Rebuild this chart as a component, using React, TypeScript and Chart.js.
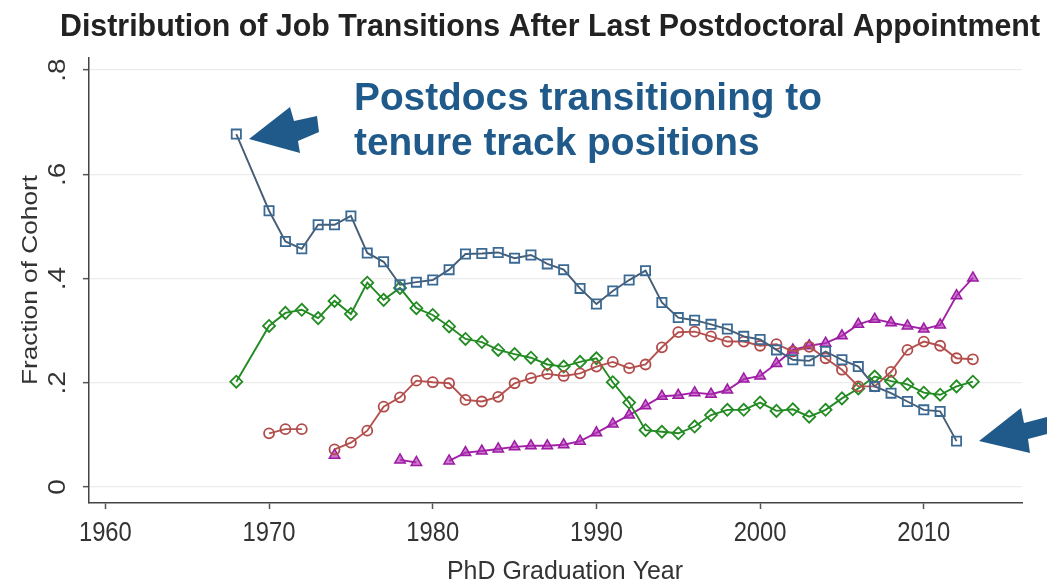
import React, { useEffect, useRef } from 'react';
import { Chart, registerables } from 'chart.js';

Chart.register(...registerables);

// ---- Data ----
const TITLE = 'Distribution of Job Transitions After Last Postdoctoral Appointment';
const ANNOT_LINE1 = 'Postdocs transitioning to';
const ANNOT_LINE2 = 'tenure track positions';
const X_TITLE = 'PhD Graduation Year';
const Y_TITLE = 'Fraction of Cohort';

const xTicks = [1960, 1970, 1980, 1990, 2000, 2010];
const xTickLabels = ['1960', '1970', '1980', '1990', '2000', '2010'];
const yTicks = [0, 0.2, 0.4, 0.6, 0.8];
const yTickLabels = ['0', '.2', '.4', '.6', '.8'];

// Tenure track (blue squares)
const tenureYears = [1968, 1970, 1971, 1972, 1973, 1974, 1975, 1976, 1977, 1978, 1979, 1980, 1981, 1982, 1983, 1984, 1985, 1986, 1987, 1988, 1989, 1990, 1991, 1992, 1993, 1994, 1995, 1996, 1997, 1998, 1999, 2000, 2001, 2002, 2003, 2004, 2005, 2006, 2007, 2008, 2009, 2010, 2011, 2012];
const tenureValues = [0.677, 0.530, 0.471, 0.457, 0.503, 0.503, 0.520, 0.449, 0.432, 0.388, 0.393, 0.397, 0.417, 0.447, 0.448, 0.450, 0.439, 0.445, 0.428, 0.417, 0.381, 0.351, 0.376, 0.397, 0.415, 0.354, 0.325, 0.320, 0.312, 0.303, 0.289, 0.283, 0.263, 0.244, 0.242, 0.260, 0.244, 0.231, 0.193, 0.180, 0.164, 0.148, 0.145, 0.088];

// Red circles
const redYears = [1970, 1971, 1972, 1973, 1974, 1975, 1976, 1977, 1978, 1979, 1980, 1981, 1982, 1983, 1984, 1985, 1986, 1987, 1988, 1989, 1990, 1991, 1992, 1993, 1994, 1995, 1996, 1997, 1998, 1999, 2000, 2001, 2002, 2003, 2004, 2005, 2006, 2007, 2008, 2009, 2010, 2011, 2012, 2013];
const redValues = [0.103, 0.111, 0.111, null, 0.072, 0.085, 0.108, 0.154, 0.172, 0.204, 0.201, 0.199, 0.167, 0.164, 0.173, 0.199, 0.209, 0.217, 0.213, 0.218, 0.231, 0.240, 0.228, 0.235, 0.268, 0.297, 0.298, 0.289, 0.279, 0.279, 0.271, 0.274, 0.260, 0.269, 0.247, 0.225, 0.193, 0.193, 0.221, 0.263, 0.279, 0.271, 0.247, 0.245];

// Green diamonds
const greenYears = [1968, 1970, 1971, 1972, 1973, 1974, 1975, 1976, 1977, 1978, 1979, 1980, 1981, 1982, 1983, 1984, 1985, 1986, 1987, 1988, 1989, 1990, 1991, 1992, 1993, 1994, 1995, 1996, 1997, 1998, 1999, 2000, 2001, 2002, 2003, 2004, 2005, 2006, 2007, 2008, 2009, 2010, 2011, 2012, 2013];
const greenValues = [0.202, 0.309, 0.334, 0.340, 0.324, 0.357, 0.332, 0.392, 0.359, 0.382, 0.343, 0.330, 0.308, 0.284, 0.278, 0.263, 0.255, 0.248, 0.235, 0.231, 0.240, 0.247, 0.201, 0.162, 0.109, 0.106, 0.103, 0.116, 0.138, 0.148, 0.148, 0.162, 0.146, 0.149, 0.135, 0.148, 0.170, 0.189, 0.212, 0.203, 0.197, 0.181, 0.177, 0.193, 0.202];

// Purple triangles
const purpleYears = [1974, 1975, 1976, 1977, 1978, 1979, 1980, 1981, 1982, 1983, 1984, 1985, 1986, 1987, 1988, 1989, 1990, 1991, 1992, 1993, 1994, 1995, 1996, 1997, 1998, 1999, 2000, 2001, 2002, 2003, 2004, 2005, 2006, 2007, 2008, 2009, 2010, 2011, 2012, 2013];
const purpleValues = [0.061, null, null, null, 0.052, 0.047, null, 0.050, 0.066, 0.069, 0.073, 0.077, 0.079, 0.079, 0.081, 0.088, 0.104, 0.121, 0.138, 0.156, 0.174, 0.176, 0.181, 0.178, 0.186, 0.207, 0.213, 0.237, 0.263, 0.271, 0.276, 0.290, 0.312, 0.322, 0.315, 0.309, 0.303, 0.311, 0.367, 0.401];

const FONT = '"Liberation Sans", Arial, Helvetica, sans-serif';
const ANNOT_COLOR = '#1f5a8a';
const TEXT_COLOR = '#333333';
const SQUISH = 0.85;

function pts(xs: number[], ys: (number | null)[]) {
  return xs.map((x, i) => ({ x, y: ys[i] }));
}

function drawText(
  ctx: CanvasRenderingContext2D,
  text: string,
  x: number,
  y: number,
  font: string,
  color: string,
  align: CanvasTextAlign,
  sx: number,
  rotate = false,
  lenScale = 1
) {
  ctx.save();
  ctx.font = font;
  ctx.fillStyle = color;
  ctx.textAlign = align;
  ctx.textBaseline = 'alphabetic';
  ctx.translate(x, y);
  ctx.scale(sx, 1);
  if (rotate) ctx.rotate(-Math.PI / 2);
  ctx.scale(lenScale, 1);
  ctx.fillText(text, 0, 0);
  ctx.restore();
}

function measure(ctx: CanvasRenderingContext2D, text: string, font: string) {
  ctx.save();
  ctx.font = font;
  const w = ctx.measureText(text).width;
  ctx.restore();
  return w;
}

function poly(ctx: CanvasRenderingContext2D, p: number[][], color: string) {
  ctx.save();
  ctx.beginPath();
  ctx.moveTo(p[0][0], p[0][1]);
  for (let i = 1; i < p.length; i++) ctx.lineTo(p[i][0], p[i][1]);
  ctx.closePath();
  ctx.fillStyle = color;
  ctx.fill();
  ctx.restore();
}

const overlayPlugin = {
  id: 'overlay',
  afterDraw(chart: any) {
    const ctx: CanvasRenderingContext2D = chart.ctx;
    const xs = chart.scales.x;
    const ys = chart.scales.y;

    // Title
    const tFont = `bold 31px ${FONT}`;
    const tw = measure(ctx, TITLE, tFont);
    drawText(ctx, TITLE, 550, 36, tFont, '#222222', 'center', 980 / tw);

    // Annotation
    const aFont = `bold 38px ${FONT}`;
    const aw = measure(ctx, ANNOT_LINE1, aFont);
    const as = 468 / aw;
    drawText(ctx, ANNOT_LINE1, 354, 110, aFont, ANNOT_COLOR, 'left', as);
    drawText(ctx, ANNOT_LINE2, 354, 155, aFont, ANNOT_COLOR, 'left', as);

    // Arrows
    poly(ctx, [[249, 139], [290, 107], [294, 121], [317, 116], [319, 132], [298, 141], [300, 153]], ANNOT_COLOR);
    poly(ctx, [[979, 441], [1021, 408], [1024, 423], [1047, 417], [1047, 434], [1028, 439], [1030, 453]], ANNOT_COLOR);

    // X tick labels
    const tickFont = `28px ${FONT}`;
    xs.ticks.forEach((t: any) => {
      const px = xs.getPixelForValue(t.value);
      const idx = xTicks.indexOf(t.value);
      drawText(ctx, idx >= 0 ? xTickLabels[idx] : String(t.value), px, 541, tickFont, TEXT_COLOR, 'center', SQUISH);
    });

    // Y tick labels (rotated)
    ys.ticks.forEach((t: any) => {
      const py = ys.getPixelForValue(t.value);
      const idx = yTicks.indexOf(t.value);
      drawText(ctx, idx >= 0 ? yTickLabels[idx] : String(t.value), 65, py, tickFont, TEXT_COLOR, 'center', SQUISH, true);
    });

    // Axis titles
    const axFont = `25px ${FONT}`;
    const xw = measure(ctx, X_TITLE, axFont);
    drawText(ctx, X_TITLE, 565, 579, axFont, TEXT_COLOR, 'center', 236 / xw);
    const yw = measure(ctx, Y_TITLE, axFont);
    drawText(ctx, Y_TITLE, 37, 280, axFont, TEXT_COLOR, 'center', SQUISH, true, 210 / yw);
  },
};

export default function App() {
  const ref = useRef<HTMLCanvasElement | null>(null);

  useEffect(() => {
    document.body.style.margin = '0';
    const canvas = ref.current;
    if (!canvas) return;
    const chart = new Chart(canvas, {
      type: 'line',
      data: {
        datasets: [
          {
            label: 'Tenure track',
            data: pts(tenureYears, tenureValues),
            borderColor: '#465d76',
            borderWidth: 1.9,
            pointStyle: 'rect',
            pointRadius: 6.5,
            pointBorderColor: '#3a6a94',
            pointBackgroundColor: 'rgba(255,255,255,0)',
            pointBorderWidth: 1.8,
          },
          {
            label: 'Red',
            data: pts(redYears, redValues),
            borderColor: '#b5524f',
            borderWidth: 1.9,
            pointStyle: 'circle',
            pointRadius: 5,
            pointBorderColor: '#b24c4a',
            pointBackgroundColor: 'rgba(255,255,255,0)',
            pointBorderWidth: 1.8,
          },
          {
            label: 'Green',
            data: pts(greenYears, greenValues),
            borderColor: '#228b22',
            borderWidth: 1.9,
            pointStyle: 'rectRot',
            pointRadius: 6,
            pointBorderColor: '#228b22',
            pointBackgroundColor: 'rgba(255,255,255,0)',
            pointBorderWidth: 1.8,
          },
          {
            label: 'Purple',
            data: pts(purpleYears, purpleValues),
            borderColor: '#a321a8',
            borderWidth: 1.9,
            pointStyle: 'triangle',
            pointRadius: 6,
            pointBorderColor: '#9c1aa2',
            pointBackgroundColor: 'rgba(175,50,180,0.65)',
            pointBorderWidth: 1.5,
          },
        ],
      },
      options: {
        responsive: false,
        animation: false,
        spanGaps: false,
        layout: { padding: { top: 58, right: 25, left: 0, bottom: 0 } },
        plugins: {
          legend: { display: false },
          tooltip: { enabled: false },
          title: { display: false },
        },
        elements: { line: { tension: 0 } },
        scales: {
          x: {
            type: 'linear',
            min: 1959,
            max: 2016,
            afterBuildTicks: (s: any) => {
              s.ticks = xTicks.map((v) => ({ value: v }));
            },
            afterFit: (s: any) => {
              s.height = 79;
            },
            ticks: { display: false },
            grid: { drawOnChartArea: false, drawTicks: true, tickLength: 6, tickColor: '#555', tickWidth: 1.5 },
            border: { display: true, color: '#444', width: 1.5 },
          },
          y: {
            type: 'linear',
            min: -0.0307,
            max: 0.823,
            afterBuildTicks: (s: any) => {
              s.ticks = yTicks.map((v) => ({ value: v }));
            },
            afterFit: (s: any) => {
              s.width = 89;
            },
            ticks: { display: false },
            grid: { color: '#ececec', lineWidth: 1.3, drawTicks: true, tickLength: 6, tickColor: '#555', tickWidth: 1.5 },
            border: { display: true, color: '#444', width: 1.5 },
          },
        },
      },
      plugins: [overlayPlugin],
    } as any);
    return () => chart.destroy();
  }, []);

  return (
    <div style={{ position: 'fixed', left: 0, top: 0, width: 1047, height: 582, background: '#fff' }}>
      <canvas ref={ref} width={1047} height={582} style={{ display: 'block' }} />
    </div>
  );
}
